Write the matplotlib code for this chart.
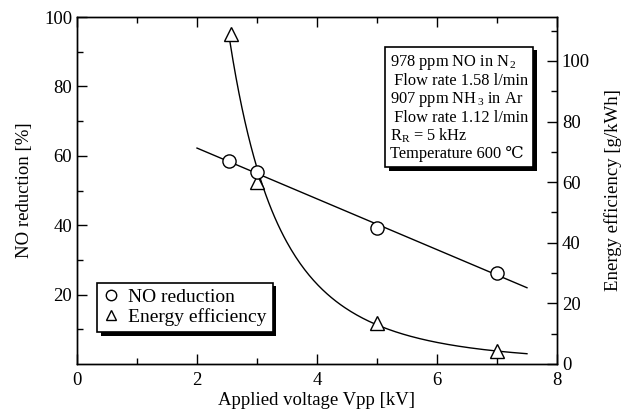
import numpy as np
import matplotlib
matplotlib.use("Agg")
import matplotlib.pyplot as plt
from matplotlib.patches import Rectangle

# ---- data ----
no_x = [2.53, 3.0, 5.0, 7.0]
no_red = [58.5, 55.3, 39.2, 26.2]          # NO reduction [%]
ee_x = [2.57, 3.0, 5.0, 7.0]
ee_val = [109.0, 60.0, 13.5, 4.2]          # Energy efficiency [g/kWh]
fit_range = [2.0, 7.5]
ee_fit_range = [2.55, 7.5]

x_ticks = [0, 2, 4, 6, 8]
left_ticks = [20, 40, 60, 80, 100]
right_ticks = [0, 20, 40, 60, 80, 100]

info_lines = [
    "978 ppm NO in N$_{\\,2}$",
    " Flow rate 1.58 l/min",
    "907 ppm NH$_{\\,3}$ in Ar",
    " Flow rate 1.12 l/min",
    "R$_{\\mathrm{R}}$ = 5 kHz",
    "Temperature 600 \u2103",
]

plt.rcParams['font.family'] = ['Liberation Serif', 'DejaVu Serif']
plt.rcParams['mathtext.fontset'] = 'custom'
plt.rcParams['mathtext.rm'] = 'Liberation Serif'
plt.rcParams['mathtext.it'] = 'Liberation Serif'

fig = plt.figure(figsize=(6.38, 4.16), dpi=100)
ax = fig.add_axes([0.1207, 0.125, 0.7523, 0.834])
ax2 = ax.twinx()

# linear fit for NO reduction
p = np.polyfit(no_x, no_red, 1)
xf = np.linspace(fit_range[0], fit_range[1], 100)
ax.plot(xf, np.polyval(p, xf), color='black', lw=1.0)
ax.plot(no_x, no_red, 'o', mfc='white', mec='black', ms=9.5, mew=1.0, zorder=5)

# decay fit for energy efficiency (quadratic in log-log)
q = np.polyfit(np.log(ee_x), np.log(ee_val), 2)
xe = np.linspace(ee_fit_range[0], ee_fit_range[1], 200)
ax2.plot(xe, np.exp(np.polyval(q, np.log(xe))), color='black', lw=1.0)
ax2.plot(ee_x, ee_val, '^', mfc='white', mec='black', ms=10, mew=1.0, zorder=5)

ax.set_xlim(0, 8)
ax.set_ylim(0, 100)
ax2.set_ylim(0, 114.5)

ax.set_xticks(x_ticks)
ax.set_xticks([1, 3, 5, 7], minor=True)
ax.set_yticks(left_ticks)
ax.set_yticks([10, 30, 50, 70, 90], minor=True)
ax2.set_yticks(right_ticks)
ax2.set_yticks([10, 30, 50, 70, 90, 110], minor=True)

ax.tick_params(axis='both', which='both', direction='in', top=True, labelsize=13.5)
ax.tick_params(which='major', length=7, width=1)
ax.tick_params(which='minor', length=4, width=1)
ax2.tick_params(axis='y', which='both', direction='in', labelsize=13.5)
ax2.tick_params(which='major', length=7, width=1)
ax2.tick_params(which='minor', length=4, width=1)

ax.set_xticklabels([str(t) for t in x_ticks])
ax.set_yticklabels([str(t) for t in left_ticks])
ax2.set_yticklabels([str(t) for t in right_ticks])
ax.tick_params(axis='x', pad=6)

ax.set_xlabel("Applied voltage Vpp [kV]", fontsize=13.5, labelpad=2)
ax.set_ylabel("NO reduction [%]", fontsize=13.5, labelpad=8)
ax2.set_ylabel("Energy efficiency [g/kWh]", fontsize=13.5, labelpad=10)

for a in (ax, ax2):
    for s in a.spines.values():
        s.set_linewidth(1.0)

ax.set_zorder(ax2.get_zorder() + 1)
ax.patch.set_visible(False)

# legend with shadow
leg_handles = [
    plt.Line2D([], [], ls='none', marker='o', mfc='white', mec='black', ms=7.5),
    plt.Line2D([], [], ls='none', marker='^', mfc='white', mec='black', ms=7.5),
]
leg = ax.legend(leg_handles, ['NO reduction', 'Energy efficiency'],
                loc='lower left', bbox_to_anchor=(0.042, 0.092),
                fontsize=14, frameon=True, fancybox=False, shadow=False,
                framealpha=1, handlelength=0.8, handletextpad=0.5, borderpad=0.3,
                labelspacing=0.12, borderaxespad=0)
leg.get_frame().set_edgecolor('black')
leg.get_frame().set_linewidth(1.2)
leg.set_zorder(10)

# info box
txt = ax.text(0.652, 0.895, "\n".join(info_lines), transform=ax.transAxes,
              fontsize=11.8, va='top', ha='left', linespacing=1.07, zorder=10,
              bbox=dict(boxstyle='square,pad=0.3', facecolor='white',
                        edgecolor='black', linewidth=1.2))

fig.canvas.draw()
inv = fig.transFigure.inverted()
bb = leg.get_frame().get_window_extent().transformed(inv)
pb = txt.get_bbox_patch().get_window_extent().transformed(inv)
for b in (bb, pb):
    ax.add_patch(Rectangle((b.x0 + 0.0055, b.y0 - 0.0085), b.width, b.height,
                           transform=fig.transFigure, facecolor='black',
                           edgecolor='none', zorder=9, clip_on=False))

fig.savefig("out.png", dpi=100)
